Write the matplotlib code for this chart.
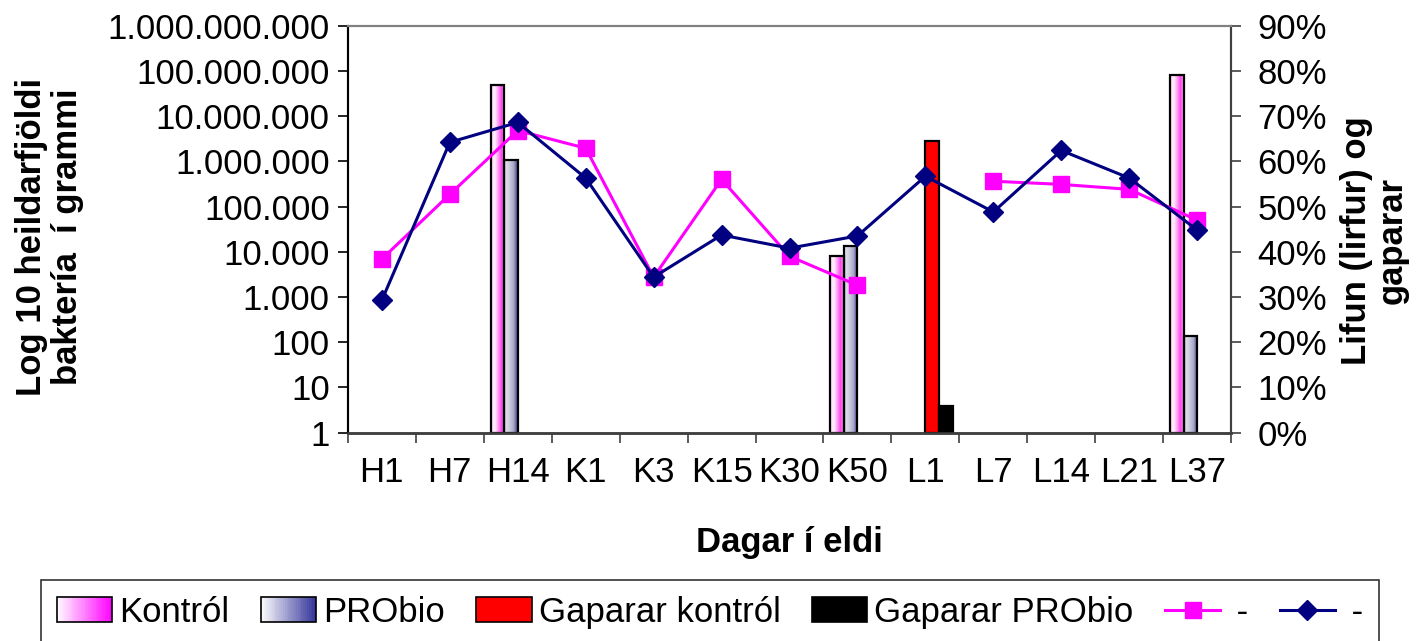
import numpy as np
import matplotlib
matplotlib.use("Agg")
import matplotlib.pyplot as plt
from matplotlib.colors import LinearSegmentedColormap
from matplotlib.legend_handler import HandlerBase
from matplotlib.patches import Rectangle
from matplotlib.lines import Line2D

plt.rcParams["font.family"] = ["Liberation Sans", "DejaVu Sans"]

nan = np.nan
days = ["H1", "H7", "H14", "K1", "K3", "K15", "K30", "K50", "L1", "L7", "L14", "L21", "L37"]

# bacteria per gram (left, log axis)
bakt_kontrol = [nan, nan, 4.75e7, nan, nan, nan, nan, 8.0e3, nan, nan, nan, nan, 7.9e7]
bakt_probio = [nan, nan, 1.05e6, nan, nan, nan, nan, 1.33e4, nan, nan, nan, nan, 133]

# deformities (right axis, fraction)
gaparar_kontrol = [nan, nan, nan, nan, nan, nan, nan, nan, 0.645, nan, nan, nan, nan]
gaparar_probio = [nan, nan, nan, nan, nan, nan, nan, nan, 0.06, nan, nan, nan, nan]

# survival (right axis, fraction)
lifun_kontrol = [0.384, 0.527, 0.668, 0.629, 0.344, 0.560, 0.390, 0.326, nan, 0.556, 0.549, 0.538, 0.470]
lifun_probio = [0.293, 0.642, 0.686, 0.563, 0.344, 0.437, 0.408, 0.435, 0.567, 0.488, 0.624, 0.563, 0.448]

left_ticks = [10 ** k for k in range(10)]
right_ticks = [i / 10 for i in range(10)]

cmap_k_bar = LinearSegmentedColormap.from_list("kb", ["#ffd6f8", "#fff0fd", "#ff9ff3", "#ff44ee", "#ffb8f6"])
cmap_p_bar = LinearSegmentedColormap.from_list("pb", ["#e4e4ee", "#cfcfe0", "#a9a9c8", "#3a3a8c"])
cmap_k_leg = LinearSegmentedColormap.from_list("kl", ["#ffffff", "#ff00ff"])
cmap_p_leg = LinearSegmentedColormap.from_list("pl", ["#ffffff", "#333399"])

FS = 25

fig = plt.figure(figsize=(14.2, 6.41), dpi=100)
ax1 = fig.add_axes([0.245, 0.325, 0.622, 0.635])
ax2 = ax1.twinx()

x = np.arange(len(days))
w = 0.2


def gradient_bars(ax, bars, cmap):
    grad = np.linspace(0, 1, 64).reshape(1, -1)
    for p in bars.patches:
        h = p.get_height()
        if not np.isfinite(h):
            continue
        x0, y0 = p.get_x(), p.get_y()
        im = ax.imshow(grad, cmap=cmap, aspect="auto", interpolation="bilinear",
                       extent=(x0, x0 + p.get_width(), y0, y0 + h), zorder=2)
        im.set_clip_path(p)
        p.set_zorder(3)


b1 = ax1.bar(x - 1.5 * w, bakt_kontrol, w, bottom=1, facecolor="none", edgecolor="black", linewidth=1.6)
b2 = ax1.bar(x - 0.5 * w, bakt_probio, w, bottom=1, facecolor="none", edgecolor="black", linewidth=1.6)
ax1.set_yscale("log")
gradient_bars(ax1, b1, cmap_k_bar)
gradient_bars(ax1, b2, cmap_p_bar)

ax2.bar(x + 0.5 * w, gaparar_kontrol, w, color="#ff0000", edgecolor="black", linewidth=1.6, zorder=2)
ax2.bar(x + 1.5 * w, gaparar_probio, w, color="#000000", edgecolor="black", linewidth=1.6, zorder=2)
ax2.plot(x, lifun_kontrol, color="#ff00ff", lw=2.2, marker="s", markersize=12, zorder=4)
ax2.plot(x, lifun_probio, color="#000080", lw=2.2, marker="D", markersize=10, zorder=5)

ax1.set_xlim(-0.5, len(days) - 0.5)
ax1.set_ylim(1, 1e9)
ax1.set_yticks(left_ticks)
ax1.set_yticklabels([f"{v:,}".replace(",", ".") for v in left_ticks], fontsize=FS)
ax1.yaxis.set_minor_locator(matplotlib.ticker.NullLocator())
ax1.set_xticks(np.arange(len(days) + 1) - 0.5)
ax1.set_xticklabels([])
ax1.set_xticks(x, minor=True)
ax1.set_xticklabels(days, minor=True, fontsize=FS)
ax1.tick_params(axis="x", which="minor", length=0, pad=17)
ax1.tick_params(axis="x", which="major", length=7, width=1.2, direction="out", color="#404040")
ax1.tick_params(axis="y", length=7, width=1.2, direction="out", pad=6)

ax2.set_ylim(0, 0.9)
ax2.set_yticks(right_ticks)
ax2.set_yticklabels([f"{int(round(v * 100))}%" for v in right_ticks], fontsize=FS)
ax2.tick_params(axis="y", length=7, width=1.2, direction="out", color="#404040", pad=12)

for a in (ax1, ax2):
    a.spines["top"].set_color("#808080")
    a.spines["top"].set_linewidth(1.5)
    a.spines["left"].set_color("black")
    a.spines["left"].set_linewidth(1.5)
    a.spines["right"].set_color("#404040")
    a.spines["right"].set_linewidth(1.5)
    a.spines["bottom"].set_color("#404040")
    a.spines["bottom"].set_linewidth(1.8)

fig.text(0.035, 0.63, "Log 10 heildarfjöldi\nbaktería  í grammi", rotation=90, ha="center", va="center",
         fontsize=FS, fontweight="bold", linespacing=1.1)
fig.text(0.968, 0.625, "Lifun (lirfur) og\ngaparar", rotation=90, ha="center", va="center",
         fontsize=FS, fontweight="bold", linespacing=1.1)
fig.text(0.556, 0.153, "Dagar í eldi", ha="center", va="center", fontsize=FS, fontweight="bold")


class GradientHandler(HandlerBase):
    def __init__(self, cmap):
        super().__init__()
        self.cmap = cmap

    def create_artists(self, legend, orig_handle, xdescent, ydescent, width, height, fontsize, trans):
        n = 30
        arts = []
        for i in range(n):
            arts.append(Rectangle((-xdescent + width * i / n, -ydescent), width / n, height,
                                  facecolor=self.cmap((i + 0.5) / n), edgecolor="none", transform=trans))
        arts.append(Rectangle((-xdescent, -ydescent), width, height, facecolor="none",
                              edgecolor="black", lw=1.2, transform=trans))
        return arts


h_k = Rectangle((0, 0), 1, 1)
h_p = Rectangle((0, 0), 1, 1)
h_gk = Rectangle((0, 0), 1, 1, facecolor="#ff0000", edgecolor="black", lw=1.2)
h_gp = Rectangle((0, 0), 1, 1, facecolor="#000000", edgecolor="black", lw=1.2)
h_l1 = Line2D([], [], color="#ff00ff", lw=2.2, marker="s", markersize=12)
h_l2 = Line2D([], [], color="#000080", lw=2.2, marker="D", markersize=10)

leg = fig.legend([h_k, h_p, h_gk, h_gp, h_l1, h_l2],
                 ["Kontról", "PRObio", "Gaparar kontról", "Gaparar PRObio", " -", " -"],
                 handler_map={h_k: GradientHandler(cmap_k_leg), h_p: GradientHandler(cmap_p_leg)},
                 loc="upper center", bbox_to_anchor=(0.5, 0.095), borderaxespad=0, ncol=6, fontsize=FS,
                 frameon=True, fancybox=False, edgecolor="black", handlelength=1.6,
                 handletextpad=0.2, columnspacing=0.9, borderpad=0.45)
leg.get_frame().set_linewidth(1.2)

fig.savefig("out.png", dpi=100)
